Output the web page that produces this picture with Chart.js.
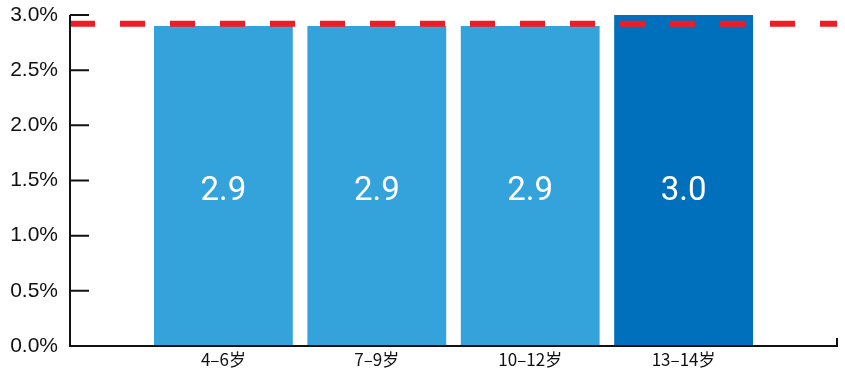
<!DOCTYPE html>
<html>
<head>
<meta charset="utf-8">
<script src="https://cdn.jsdelivr.net/npm/chart.js@4"></script>
<style>
  html, body { margin: 0; padding: 0; background: #fff; }
  #wrap { width: 845px; height: 372px; }
</style>
</head>
<body>
<div id="wrap"><canvas id="ageChart"></canvas></div>
<script>
// age groups, padded with empty slots so the axis runs past the outer bars
const ageGroups = ["", "4–6岁", "7–9岁", "10–12岁", "13–14岁", ""];
const rates = [null, 2.9, 2.9, 2.9, 3.0, null];
const barColors = ["#34a3dc", "#34a3dc", "#34a3dc", "#34a3dc", "#0070bc", "#34a3dc"];
const averageRate = 2.92;
const yTicks = [0, 0.5, 1.0, 1.5, 2.0, 2.5, 3.0];

// =========================
// Value labels inside bars, on one common line
// =========================
const barValueLabels = {
    id: "barValueLabels",
    afterDatasetsDraw(chart) {
        const ctx = chart.ctx;
        const area = chart.chartArea;
        const meta = chart.getDatasetMeta(1);
        const labelY = (area.top + area.bottom) / 2 + 11;
        ctx.save();
        ctx.fillStyle = "#ffffff";
        ctx.font = "33px Roboto";
        ctx.textAlign = "center";
        ctx.textBaseline = "middle";
        meta.data.forEach((bar, i) => {
            const v = rates[i];
            if (v === null) return;
            ctx.fillText(v.toFixed(1), bar.x, labelY);
        });
        ctx.restore();
    }
};

// =========================
// Axis lines with inward ticks
// =========================
const axisLines = {
    id: "axisLines",
    afterDraw(chart) {
        const ctx = chart.ctx;
        const area = chart.chartArea;
        const y = chart.scales.y;
        ctx.save();
        ctx.strokeStyle = "#111";
        ctx.lineWidth = 2;
        ctx.beginPath();
        ctx.moveTo(area.left, area.top);
        ctx.lineTo(area.left, area.bottom);
        ctx.lineTo(area.right, area.bottom);
        ctx.lineTo(area.right, area.bottom - 8);
        yTicks.forEach(t => {
            const py = y.getPixelForValue(t);
            ctx.moveTo(area.left, py);
            ctx.lineTo(area.left + 19, py);
        });
        ctx.stroke();
        ctx.restore();
    }
};

const canvas = document.getElementById("ageChart");

new Chart(canvas, {
    data: {
        labels: ageGroups,
        datasets: [
            {
                type: "line",
                data: ageGroups.map(() => averageRate),
                borderColor: "#ee1c25",
                borderWidth: 6,
                borderDash: [25, 25],
                pointRadius: 0,
                fill: false,
                order: 0
            },
            {
                type: "bar",
                data: rates,
                backgroundColor: barColors,
                categoryPercentage: 1,
                barPercentage: 0.905,
                order: 1
            }
        ]
    },
    options: {
        responsive: true,
        maintainAspectRatio: false,
        animation: false,
        layout: {
            padding: { top: 15, right: 8, left: 0, bottom: 0 }
        },
        plugins: {
            legend: { display: false },
            tooltip: { enabled: false }
        },
        scales: {
            x: {
                offset: false,
                grid: { display: false, drawTicks: false },
                border: { display: false },
                ticks: {
                    color: "#111",
                    font: { family: "Noto Sans CJK SC", size: 17 },
                    padding: 3,
                    maxRotation: 0,
                    autoSkip: false
                },
                afterFit(scale) { scale.height = 26; }
            },
            y: {
                min: 0,
                max: 3,
                grid: { display: false, drawTicks: false },
                border: { display: false },
                ticks: {
                    stepSize: 0.5,
                    color: "#111",
                    font: { family: "Liberation Sans", size: 21 },
                    padding: 12,
                    callback: v => v.toFixed(1) + "%"
                },
                afterFit(scale) {
                    scale.width = 70;
                    scale.paddingTop = 0;
                    scale.paddingBottom = 0;
                }
            }
        }
    },
    plugins: [barValueLabels, axisLines]
});
</script>
</body>
</html>
